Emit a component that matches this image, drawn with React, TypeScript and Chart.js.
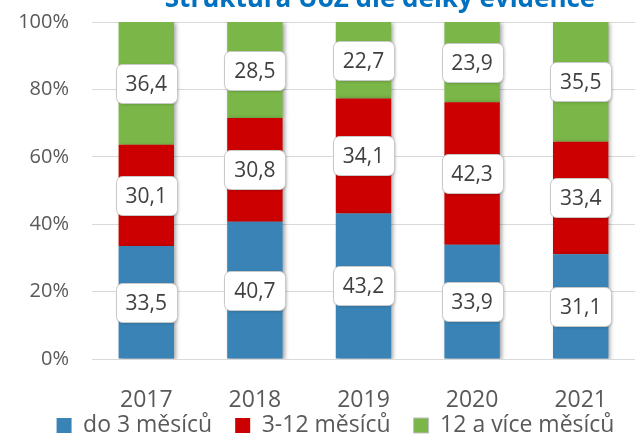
import React, { useEffect, useRef } from 'react';
import { Chart, registerables } from 'chart.js';

Chart.register(...registerables);

const chartTitle = 'Struktura UoZ dle délky evidence';
const categories = ['2017', '2018', '2019', '2020', '2021'];
const seriesNames = ['do 3 měsíců', '3-12 měsíců', '12 a více měsíců'];
const upTo3 = [33.5, 40.7, 43.2, 33.9, 31.1];
const from3to12 = [30.1, 30.8, 34.1, 42.3, 33.4];
const over12 = [36.4, 28.5, 22.7, 23.9, 35.5];
const yTicks = [0, 20, 40, 60, 80, 100];

const FONT = "'Open Sans', sans-serif";
const COLORS = ['#3A83B6', '#CC0000', '#7AB648'];

const titlePlugin = {
  id: 'clippedTitle',
  afterDraw(chart: any) {
    const ctx = chart.ctx;
    ctx.save();
    ctx.font = `bold 26px ${FONT}`;
    ctx.fillStyle = '#0070C0';
    ctx.textAlign = 'center';
    ctx.textBaseline = 'alphabetic';
    ctx.fillText(chartTitle, 380, 7);
    ctx.restore();
  },
};

const layoutTweaks = {
  id: 'layoutTweaks',
  afterLayout(chart: any) {
    const l = chart.legend;
    if (l) {
      l.left += 18;
      l.right += 18;
    }
    const xs = chart.scales.x;
    if (xs) {
      xs.bottom += 40;
    }
  },
};

const barShadow = {
  id: 'barShadow',
  beforeDatasetsDraw(chart: any) {
    const ctx = chart.ctx;
    ctx.save();
    ctx.shadowColor = 'rgba(0,0,0,0.35)';
    ctx.shadowBlur = 4;
    ctx.shadowOffsetX = 2;
    ctx.shadowOffsetY = 1;
  },
  afterDatasetsDraw(chart: any) {
    chart.ctx.restore();
  },
};

const boxLabels = {
  id: 'boxLabels',
  afterDatasetsDraw(chart: any) {
    const ctx = chart.ctx;
    ctx.save();
    ctx.font = `21px ${FONT}`;
    chart.data.datasets.forEach((ds: any, di: number) => {
      const meta = chart.getDatasetMeta(di);
      meta.data.forEach((el: any, i: number) => {
        const v = ds.data[i];
        const { x, y, base } = el.getProps(['x', 'y', 'base'], true);
        const top = Math.max(Math.min(y, base), chart.chartArea.top);
        const bottom = Math.max(y, base);
        const cy = (top + bottom) / 2;
        const text = v.toFixed(1).replace('.', ',');
        const w = Math.round(ctx.measureText(text).width + 20);
        const h = 39;
        const bx = Math.round(x - w / 2) + 0.5;
        const by = Math.round(cy - h / 2) + 0.5;
        ctx.save();
        ctx.shadowColor = 'rgba(0,0,0,0.18)';
        ctx.shadowBlur = 3;
        ctx.shadowOffsetX = 1;
        ctx.shadowOffsetY = 1;
        ctx.beginPath();
        ctx.roundRect(bx, by, w, h, 6);
        ctx.fillStyle = '#ffffff';
        ctx.fill();
        ctx.restore();
        ctx.beginPath();
        ctx.roundRect(bx, by, w, h, 6);
        ctx.strokeStyle = '#c9c9c9';
        ctx.lineWidth = 1;
        ctx.stroke();
        ctx.fillStyle = '#404040';
        ctx.textAlign = 'center';
        ctx.textBaseline = 'middle';
        ctx.fillText(text, x, by + h / 2 + 1);
      });
    });
    ctx.restore();
  },
};

export default function App() {
  const canvasRef = useRef<HTMLCanvasElement | null>(null);

  useEffect(() => {
    if (!canvasRef.current) return;
    const seriesData = [upTo3, from3to12, over12];
    const chart = new Chart(canvasRef.current, {
      type: 'bar',
      data: {
        labels: categories,
        datasets: seriesNames.map((name, i) => ({
          label: name,
          data: seriesData[i],
          backgroundColor: COLORS[i],
          borderWidth: 0,
          barPercentage: 0.51,
          categoryPercentage: 1.0,
        })),
      },
      options: {
        animation: false,
        responsive: true,
        maintainAspectRatio: false,
        layout: { padding: { top: 22, left: 0, right: 0, bottom: -13 } },
        scales: {
          x: {
            stacked: true,
            grid: { display: false },
            border: { display: false },
            ticks: { color: '#595959', font: { family: FONT, size: 23 }, padding: 20 },
            afterFit(s: any) {
              s.height = 32;
            },
          },
          y: {
            stacked: true,
            min: 0,
            max: 100,
            grid: { color: '#d9d9d9', drawTicks: false },
            border: { display: false },
            ticks: {
              color: '#595959',
              font: { family: FONT, size: 20 },
              padding: 23,
              callback: (v: any) => v + '%',
            },
            afterBuildTicks(s: any) {
              s.ticks = yTicks.map((v) => ({ value: v }));
            },
            afterFit(s: any) {
              s.width = 92;
              s.paddingTop = 12;
              s.paddingBottom = 12;
            },
          },
        },
        plugins: {
          legend: {
            position: 'bottom',
            labels: {
              color: '#595959',
              font: { family: FONT, size: 23 },
              boxWidth: 15,
              boxHeight: 15,
              padding: 23,
              generateLabels(c: any) {
                const items = Chart.defaults.plugins.legend.labels.generateLabels(c);
                return items.map((it: any, idx: number) =>
                  idx === 2 ? { ...it, strokeStyle: '#bfbfbf', lineWidth: 1 } : { ...it, lineWidth: 0 }
                );
              },
            },
          },
          tooltip: { enabled: false },
          title: { display: false },
        },
      } as any,
      plugins: [layoutTweaks, barShadow, boxLabels, titlePlugin],
    });
    return () => chart.destroy();
  }, []);

  return (
    <div style={{ position: 'fixed', left: 0, top: 0, width: 635, height: 434, background: '#fff' }}>
      <canvas ref={canvasRef} />
    </div>
  );
}
